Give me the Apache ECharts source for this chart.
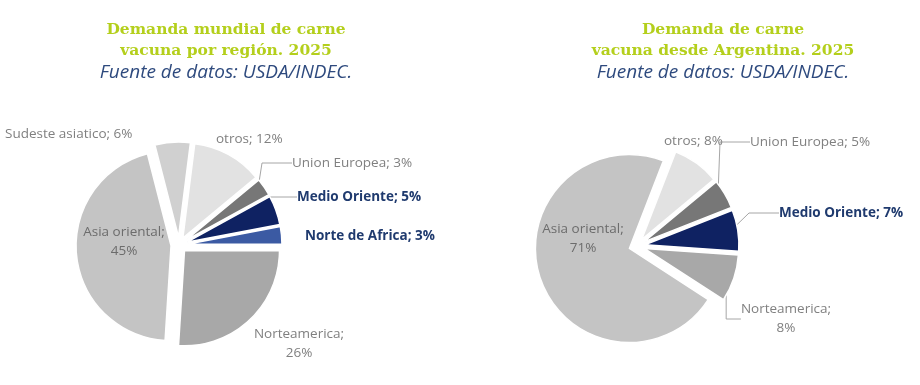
<!DOCTYPE html>
<html>
<head>
<meta charset="utf-8">
<script src="https://cdn.jsdelivr.net/npm/echarts@6/dist/echarts.min.js"></script>
<style>
html,body{margin:0;padding:0;background:#fff;}
#c{width:920px;height:385px;}
</style>
</head>
<body>
<div id="c"></div>
<script>
// ---- data ----
var leftNames  = ['Norte de Africa','Medio Oriente','Union Europea','otros','Sudeste asiatico','Asia oriental','Norteamerica'];
var leftValues = [3, 5, 3, 12, 6, 45, 26];
var rightNames  = ['Norteamerica','Medio Oriente','Union Europea','otros','Asia oriental'];
var rightValues = [8, 7, 5, 8, 71];
var leftTitle  = 'Demanda mundial de carne\nvacuna por región. 2025';
var rightTitle = 'Demanda de carne\nvacuna desde Argentina. 2025';
var sourceText = 'Fuente de datos: USDA/INDEC.';

// ---- styles ----
var colorMap = {
  'Norte de Africa':'#3b5aa3','Medio Oriente':'#0f2262','Union Europea':'#777777',
  'otros':'#e2e2e2','Sudeste asiatico':'#d0d0d0','Asia oriental':'#c4c4c4','Norteamerica':'#a8a8a8'
};
var boldNames = {'Norte de Africa':1,'Medio Oriente':1};
var wrapNames = {'Asia oriental':1,'Norteamerica':1};
// label anchors [x, y, align]
var leftLabelPos = {
  'Sudeste asiatico':[5,134,'left'], 'otros':[216,139,'left'], 'Union Europea':[292,163,'left'],
  'Medio Oriente':[297,197,'left'], 'Norte de Africa':[305,236,'left'],
  'Asia oriental':[124,242,'center'], 'Norteamerica':[299,344,'center']
};
var rightLabelPos = {
  'otros':[664,141,'left'], 'Union Europea':[750,142,'left'], 'Medio Oriente':[779,213,'left'],
  'Asia oriental':[583,239,'center'], 'Norteamerica':[786,319,'center']
};
var leftLines = {'Union Europea':1,'Medio Oriente':1};
var rightLines = {'Union Europea':1,'Medio Oriente':1,'Norteamerica':1};

function sliceData(names, values){
  return names.map(function(n,i){
    return {name:n, value:values[i], selected:true, itemStyle:{color:colorMap[n]}};
  });
}
function labelData(names, values, lines){
  return names.map(function(n,i){
    return {
      name:n, value:values[i],
      label:{
        color: boldNames[n] ? '#1f3a6e' : (n==='Asia oriental' ? '#6c6c6c' : '#808080'),
        fontWeight: boldNames[n] ? 'bold' : 'normal'
      },
      labelLine:{show: !!lines[n], lineStyle:{color:'#a6a6a6', width:1}}
    };
  });
}
function fmt(p){
  return p.name + ';' + (wrapNames[p.name] ? '\n' : ' ') + p.value + '%';
}
function layoutFor(names, pos){
  return function(params){
    var p = pos[names[params.dataIndex]];
    return {x:p[0], y:p[1], align:p[2], verticalAlign:'middle'};
  };
}

var sliceSeries = {
  type:'pie', selectedMode:'multiple', selectedOffset:8, silent:true,
  clockwise:false, animation:false,
  itemStyle:{borderColor:'#ffffff', borderWidth:1.5},
  label:{show:false}, labelLine:{show:false},
  emphasis:{disabled:true}
};
var labelSeries = {
  type:'pie', silent:true, clockwise:false, animation:false, avoidLabelOverlap:false,
  itemStyle:{color:'rgba(0,0,0,0)', borderWidth:0},
  label:{show:true, formatter:fmt, fontFamily:'Open Sans', fontSize:13.5, lineHeight:19, overflow:'none'},
  emphasis:{disabled:true}
};

var chart = echarts.init(document.getElementById('c'), null, {renderer:'canvas'});
var titleStyle = {fontFamily:'DejaVu Serif', fontWeight:'bold', fontSize:15.5, lineHeight:21, color:'#b4cf1c'};
var subStyle = {fontFamily:'Open Sans', fontStyle:'italic', fontSize:19, color:'#2e4a7e'};
chart.setOption({
  backgroundColor:'#ffffff',
  title:[
    {text:leftTitle, subtext:sourceText, left:221, top:14, textAlign:'center', itemGap:2, textStyle:titleStyle, subtextStyle:subStyle},
    {text:rightTitle, subtext:sourceText, left:718, top:14, textAlign:'center', itemGap:2, textStyle:titleStyle, subtextStyle:subStyle}
  ],
  series:[
    Object.assign({}, sliceSeries, {center:[179,245], radius:95, startAngle:0, data:sliceData(leftNames, leftValues)}),
    Object.assign({}, labelSeries, {center:[179,245], radius:95, startAngle:0,
      data:labelData(leftNames, leftValues, leftLines), labelLayout:layoutFor(leftNames, leftLabelPos)}),
    Object.assign({}, sliceSeries, {center:[637,246], radius:94, startAngle:327, data:sliceData(rightNames, rightValues)}),
    Object.assign({}, labelSeries, {center:[637,246], radius:94, startAngle:327,
      data:labelData(rightNames, rightValues, rightLines), labelLayout:layoutFor(rightNames, rightLabelPos)})
  ]
});
</script>
</body>
</html>
